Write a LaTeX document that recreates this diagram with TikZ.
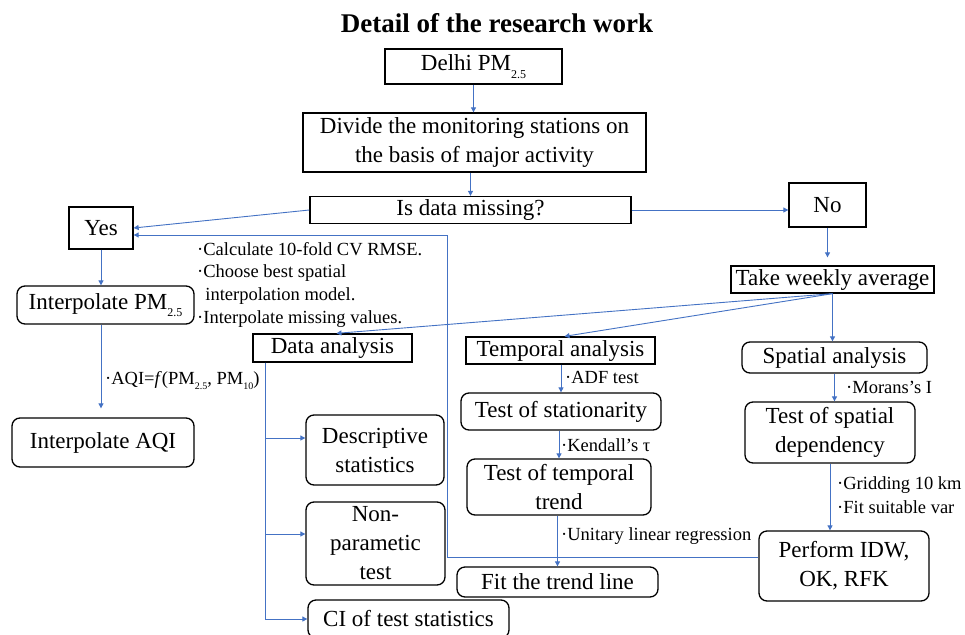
\documentclass[tikz,border=0pt]{standalone}
\usepackage{fontspec}
\setmainfont{Liberation Serif}
\usetikzlibrary{arrows.meta}
\definecolor{lineblue}{HTML}{4472C4}
\newcommand\lowsub[2][12]{\raisebox{-0.32em}{\fontsize{#1}{#1}\selectfont #2}}
\begin{document}
\begin{tikzpicture}[x=1pt,y=-1pt,
  box/.style={draw=black, line width=1.3pt, inner sep=0pt, align=center, font=\fontsize{23}{29}\selectfont},
  rbox/.style={box, rounded corners=8pt},
  sbox/.style={box},
  conn/.style={draw=lineblue, line width=0.9pt},
  arr/.style={conn, -{Triangle[width=5pt,length=5pt]}},
  note/.style={anchor=base west, inner sep=0pt, font=\fontsize{18.5}{22}\selectfont}
]
\useasboundingbox (0,0) rectangle (965,634);
\fill[white] (0,0) rectangle (965,634);

% title
\node[anchor=base, inner sep=0pt, font=\fontsize{27}{32}\selectfont\bfseries] (title) at (497,33) {Detail of the research work};

% boxes
\node[sbox, minimum width=177pt, minimum height=35pt] (delhi) at (473.5,66.5) {Delhi PM\lowsub{2.5}};
\node[sbox, minimum width=343pt, minimum height=59pt] (divide) at (474.5,142.5) {Divide the monitoring stations on\\the basis of major activity};
\node[sbox, minimum width=321pt, minimum height=27pt] (missing) at (470.5,210) {Is data missing?};
\node[sbox, minimum width=64pt, minimum height=42pt] (yes) at (101,228) {Yes};
\node[sbox, minimum width=77pt, minimum height=44pt] (no) at (827.5,205) {No};
\node[sbox, minimum width=203pt, minimum height=27pt] (weekly) at (832.5,279.5) {Take weekly average};
\node[rbox, minimum width=177pt, minimum height=38pt] (interp) at (105.5,305) {Interpolate PM\lowsub{2.5}};
\node[rbox, minimum width=182pt, minimum height=49pt] (aqi) at (103,442.5) {Interpolate AQI};
\node[sbox, minimum width=159pt, minimum height=28pt] (data) at (332.5,348) {Data analysis};
\node[sbox, minimum width=189pt, minimum height=27pt] (temporal) at (560.5,350.5) {Temporal analysis};
\node[rbox, minimum width=185pt, minimum height=31pt] (spatial) at (834.5,357.5) {Spatial analysis};
\node[rbox, minimum width=200pt, minimum height=37pt] (station) at (561,411.5) {Test of stationarity};
\node[rbox, minimum width=184pt, minimum height=56pt] (trend) at (559,487) {Test of temporal\\trend};
\node[rbox, minimum width=201pt, minimum height=30pt] (fit) at (557.5,582) {Fit the trend line};
\node[rbox, minimum width=170pt, minimum height=61pt] (spdep) at (830,432.5) {Test of spatial\\dependency};
\node[rbox, minimum width=170pt, minimum height=70pt] (idw) at (844,566) {Perform IDW,\\OK, RFK};
\node[rbox, minimum width=138pt, minimum height=70pt] (desc) at (375,450) {Descriptive\\statistics};
\node[rbox, minimum width=139pt, minimum height=83pt] (nonpar) at (375.5,543.5) {Non-\\parametic\\test};
\node[rbox, minimum width=201pt, minimum height=38pt] (ci) at (408.5,619) {CI of test statistics};

% notes
\node[note] (n1) at (197,255) {·Calculate 10-fold CV RMSE.};
\node[note] (n2) at (197,277) {·Choose best spatial};
\node[note] (n3) at (197,300) {\phantom{·}\hspace{2pt}interpolation model.};
\node[note] (n4) at (197,323) {·Interpolate missing values.};
\node[note] (n5) at (105,384) {·AQI=\textit{f}(PM\lowsub[10]{2.5}, PM\lowsub[10]{10})};
\node[note] (n6) at (565,383) {·ADF test};
\node[note] (n7) at (561,451) {·Kendall’s τ};
\node[note] (n8) at (561,540) {·Unitary linear regression};
\node[note] (n9) at (846,393) {·Morans’s I};
\node[note] (n10) at (837,489) {·Gridding 10 km};
\node[note] (n11) at (837,513) {·Fit suitable var};

% connectors
\coordinate (ret) at (447,235);
\draw[arr] (delhi.south) -- (delhi.south |- divide.north);
\draw[arr] (divide.south -| missing.north) -- (missing.north);
\draw[arr] (missing.west) -- (yes.east);
\draw[arr] (missing.east) -- (missing.east -| no.west);
\draw[arr, shorten >=8pt] (no.south) -- (no.south |- weekly.north);
\draw[arr] (weekly.south) -- ([xshift=4pt]data.north);
\draw[arr] (weekly.south) -- ([xshift=4pt]temporal.north);
\draw[arr] (weekly.south) -- (weekly.south |- spatial.north);
\draw[arr] (yes.south) -- (yes.south |- interp.north);
\draw[arr, shorten >=9pt] (yes.south |- interp.south) -- (yes.south |- aqi.north);
\draw[arr] ([xshift=13pt]data.south west) |- ([yshift=12pt]desc.west);
\draw[arr] ([xshift=13pt]data.south west) |- ([yshift=9.5pt]nonpar.west);
\draw[arr] ([xshift=13pt]data.south west) |- (ci.west);
\draw[arr] ([yshift=9pt]idw.west) -| (ret) -- (ret -| yes.east);
\draw[arr] (temporal.south -| station.north) -- (station.north);
\draw[arr] (station.south -| trend.north) -- (trend.north);
\draw[arr] (trend.south -| fit.north) -- (fit.north);
\draw[arr] (spatial.south) -- (spatial.south |- spdep.north);
\draw[arr] (spdep.south) -- (spdep.south |- idw.north);
\end{tikzpicture}
\end{document}
